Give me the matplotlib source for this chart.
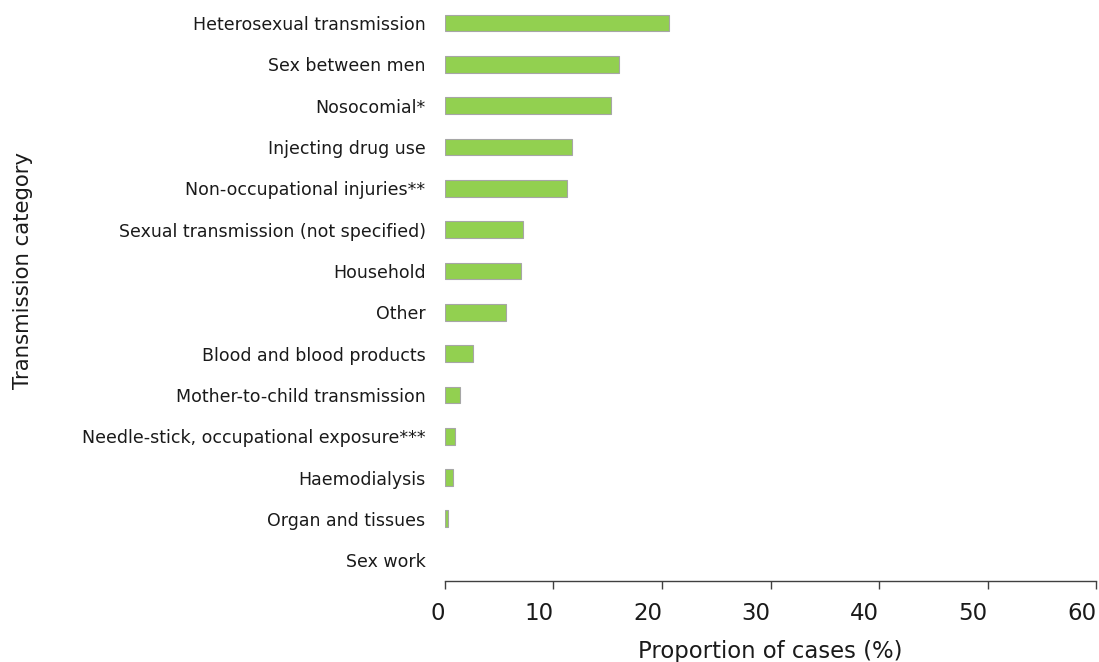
import matplotlib.pyplot as plt

# Transmission categories, top to bottom
categories = [
    'Heterosexual transmission',
    'Sex between men',
    'Nosocomial*',
    'Injecting drug use',
    'Non-occupational injuries**',
    'Sexual transmission (not specified)',
    'Household',
    'Other',
    'Blood and blood products',
    'Mother-to-child transmission',
    'Needle-stick, occupational exposure***',
    'Haemodialysis',
    'Organ and tissues',
    'Sex work',
]
# proportion of cases (%)
values = [20.6, 16.0, 15.3, 11.7, 11.2, 7.15, 7.05, 5.6, 2.6, 1.36, 0.92, 0.71, 0.25, 0.0]
xticks = [0, 10, 20, 30, 40, 50, 60]

fig = plt.figure(figsize=(10.99, 6.62), dpi=100)
ax = fig.add_axes([0.4049, 0.1224, 0.5924, 0.8741])

pos = list(range(len(categories)))
# no outline on empty bars (Sex work = 0)
edges = ['#A6A6A6' if v > 0 else 'none' for v in values]
ax.barh(pos, values, height=0.41, color='#92D050', edgecolor=edges, linewidth=0.8)

ax.set_ylim(len(categories) - 0.5, -0.5)
ax.set_xlim(0, 60)
ax.set_yticks(pos)
ax.set_yticklabels(categories, fontsize=12.5, color='#1a1a1a')
ax.tick_params(axis='y', length=0, pad=14)

ax.set_xticks(xticks)
ax.set_xticklabels([str(t) for t in xticks], fontsize=16.5, color='#1a1a1a')
ax.tick_params(axis='x', length=6, width=1, color='#404040', pad=9)
# tick labels sit just left of their tick mark
for lab in ax.get_xticklabels():
    lab.set_ha('right')

for s in ['top', 'right', 'left']:
    ax.spines[s].set_visible(False)
ax.spines['bottom'].set_color('#404040')
ax.spines['bottom'].set_linewidth(1)

ax.set_xlabel('Proportion of cases (%)', fontsize=16.4, color='#1a1a1a', labelpad=11)
fig.text(0.021, 0.592, 'Transmission category', rotation=90, fontsize=15.3,
         color='#1a1a1a', ha='center', va='center')

fig.savefig('out.png', dpi=100)
